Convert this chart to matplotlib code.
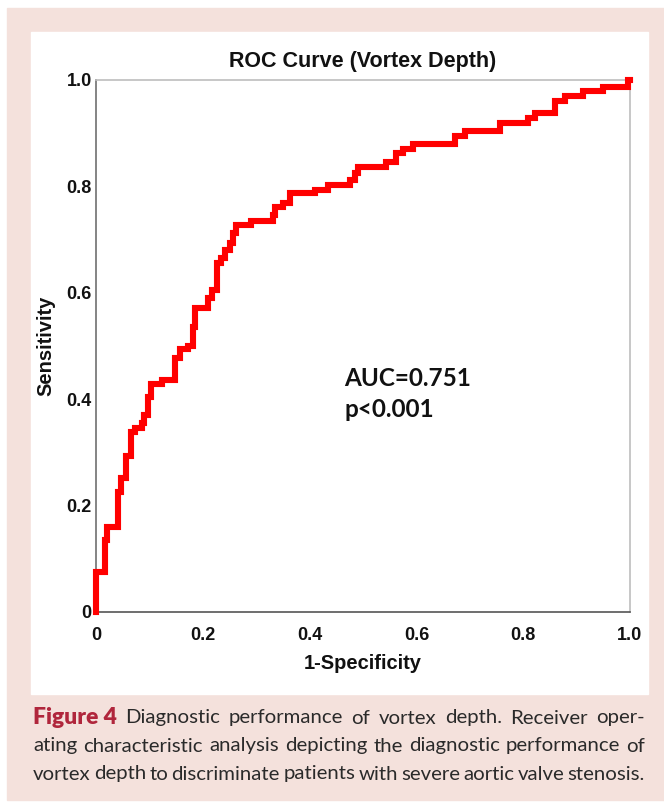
import matplotlib
matplotlib.use("Agg")
import matplotlib.pyplot as plt
from matplotlib.patches import Rectangle

# ROC curve corners (1-specificity, sensitivity)
fpr = [0.0, 0.017, 0.020, 0.042, 0.047, 0.057, 0.065, 0.073, 0.086, 0.090,
       0.098, 0.103, 0.123, 0.148, 0.157, 0.172, 0.181, 0.186, 0.210, 0.218,
       0.227, 0.235, 0.242, 0.251, 0.257, 0.263, 0.291, 0.331, 0.335, 0.350,
       0.363, 0.410, 0.434, 0.476, 0.485, 0.491, 0.544, 0.562, 0.575, 0.594,
       0.672, 0.691, 0.757, 0.809, 0.822, 0.860, 0.878, 0.912, 0.950, 0.996,
       1.000]
tpr = [0.0, 0.075, 0.135, 0.160, 0.226, 0.252, 0.293, 0.338, 0.346, 0.355,
       0.370, 0.404, 0.429, 0.436, 0.477, 0.494, 0.500, 0.536, 0.571, 0.590,
       0.605, 0.656, 0.665, 0.680, 0.693, 0.712, 0.727, 0.735, 0.746, 0.761,
       0.769, 0.787, 0.793, 0.803, 0.812, 0.825, 0.837, 0.845, 0.863, 0.870,
       0.880, 0.895, 0.904, 0.919, 0.929, 0.938, 0.961, 0.970, 0.979, 0.987,
       1.000]

ticks = [0, 0.2, 0.4, 0.6, 0.8, 1.0]
tick_labels = ["0", "0.2", "0.4", "0.6", "0.8", "1.0"]
auc_text = "AUC=0.751\np<0.001"
caption_lines = [
    ["Diagnostic", "performance", "of", "vortex", "depth.", "Receiver", "oper-"],
    ["ating", "characteristic", "analysis", "depicting", "the", "diagnostic",
     "performance", "of"],
    ["vortex", "depth", "to", "discriminate", "patients", "with", "severe",
     "aortic", "valve", "stenosis."],
]

W, H = 664, 807
fig = plt.figure(figsize=(W / 100, H / 100), dpi=100)
fig.patch.set_facecolor("white")

def fx(px):
    return px / W

def fy(py):
    return 1 - py / H

# pink frame and white panel
fig.add_artist(Rectangle((fx(7), fy(800)), fx(664) - fx(7), fy(8) - fy(800),
                         transform=fig.transFigure, color="#f4e1dc", zorder=0))
fig.add_artist(Rectangle((fx(31), fy(694)), fx(648) - fx(31), fy(32) - fy(694),
                         transform=fig.transFigure, color="white", zorder=0))

ax = fig.add_axes([fx(96), fy(612), fx(630) - fx(96), fy(80) - fy(612)])
ax.set_facecolor("white")
ax.plot(fpr, tpr, drawstyle="steps-pre", color="#ff0000", lw=4.4,
        solid_joinstyle="miter", clip_on=False, zorder=3)
ax.set_xlim(0, 1)
ax.set_ylim(0, 1)
ax.set_xticks(ticks)
ax.set_yticks(ticks)
tick_font = dict(family="Liberation Sans", weight="bold", size=13)
ax.set_xticklabels(tick_labels, fontdict=tick_font)
ax.set_yticklabels(tick_labels, fontdict=tick_font)
ax.tick_params(length=0, colors="#111111")
ax.tick_params(axis="x", pad=11)
ax.tick_params(axis="y", pad=3)
ax.spines["left"].set_color("#707070")
ax.spines["bottom"].set_color("#555555")
ax.spines["top"].set_color("#bdbdbd")
ax.spines["right"].set_color("#bdbdbd")
for s in ax.spines.values():
    s.set_linewidth(1.2)

ax.set_title("ROC Curve (Vortex Depth)", family="Liberation Sans",
             weight="bold", size=15.5, color="#111111", pad=9)
ax.set_xlabel("1-Specificity", family="Liberation Sans", weight="bold",
              size=14.5, color="#111111", labelpad=7)
ax.set_ylabel("Sensitivity", family="Liberation Sans", weight="bold",
              size=14.5, color="#111111", labelpad=8)
ax.text(0.465, 0.41, auc_text, transform=ax.transAxes, family="Lato",
        weight="bold", size=17.5, color="#111111", va="center", ha="left",
        linespacing=1.45)

# justified caption
fig.canvas.draw()
rend = fig.canvas.get_renderer()
cap_size = 14.7
left_px, right_px = 33, 645
line_y = [718, 746, 774]
for i, words in enumerate(caption_lines):
    items = []
    if i == 0:
        items.append(("Figure 4", dict(weight="heavy", color="#b0263c",
                                       size=cap_size + 1.8)))
    for w in words:
        items.append((w, dict(weight="normal", color="#2a2a2a", size=cap_size)))
    arts = []
    for txt, st in items:
        t = fig.text(0, fy(line_y[i]), txt, family="Lato",
                     va="center", ha="left", **st)
        arts.append(t)
    widths = [a.get_window_extent(rend).width for a in arts]
    gap = (right_px - left_px - sum(widths)) / (len(arts) - 1)
    x = left_px
    for a, wd in zip(arts, widths):
        a.set_x(fx(x))
        x += wd + gap

fig.savefig("out.png", dpi=100, facecolor="white")
